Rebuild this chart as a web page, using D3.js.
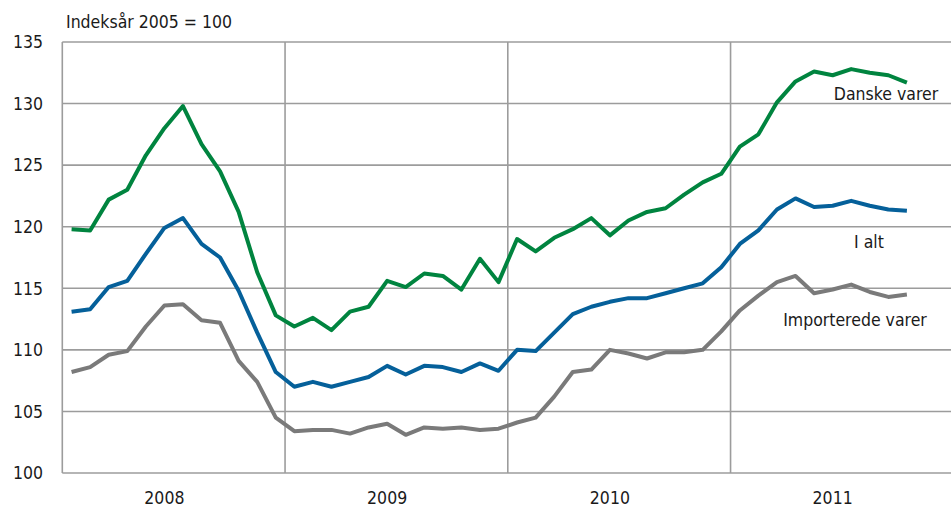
<!DOCTYPE html>
<html>
<head>
<meta charset="utf-8">
<script src="https://cdn.jsdelivr.net/npm/d3@7"></script>
<style>
  html, body { margin: 0; padding: 0; background: #fff; }
  svg text { font-family: "DejaVu Sans Condensed", "DejaVu Sans", sans-serif; font-stretch: condensed; fill: #1a1a1a; }
</style>
</head>
<body>
<svg id="chart" width="951" height="509"></svg>
<script>
'use strict';

// monthly index values, Jan 2008 .. Oct 2011
var years = ['2008', '2009', '2010', '2011'];
var yTicks = [100, 105, 110, 115, 120, 125, 130, 135];

var danskeVarer = [
  119.8, 119.7, 122.2, 123.0, 125.8, 128.0, 129.8, 126.7, 124.5, 121.2, 116.3, 112.8,
  111.9, 112.6, 111.6, 113.1, 113.5, 115.6, 115.1, 116.2, 116.0, 114.9, 117.4, 115.5,
  119.0, 118.0, 119.1, 119.8, 120.7, 119.3, 120.5, 121.2, 121.5, 122.6, 123.6, 124.3,
  126.5, 127.5, 130.1, 131.8, 132.6, 132.3, 132.8, 132.5, 132.3, 131.7
];

var iAlt = [
  113.1, 113.3, 115.1, 115.6, 117.8, 119.9, 120.7, 118.6, 117.5, 114.8, 111.4, 108.2,
  107.0, 107.4, 107.0, 107.4, 107.8, 108.7, 108.0, 108.7, 108.6, 108.2, 108.9, 108.3,
  110.0, 109.9, 111.4, 112.9, 113.5, 113.9, 114.2, 114.2, 114.6, 115.0, 115.4, 116.7,
  118.6, 119.7, 121.4, 122.3, 121.6, 121.7, 122.1, 121.7, 121.4, 121.3
];

var importeredeVarer = [
  108.2, 108.6, 109.6, 109.9, 111.9, 113.6, 113.7, 112.4, 112.2, 109.1, 107.4, 104.5,
  103.4, 103.5, 103.5, 103.2, 103.7, 104.0, 103.1, 103.7, 103.6, 103.7, 103.5, 103.6,
  104.1, 104.5, 106.2, 108.2, 108.4, 110.0, 109.7, 109.3, 109.8, 109.8, 110.0, 111.5,
  113.2, 114.4, 115.5, 116.0, 114.6, 114.9, 115.3, 114.7, 114.3, 114.5
];

var seriesNames = ['Danske varer', 'I alt', 'Importerede varer'];
var seriesColors = ['#00843f', '#05609a', '#7a7a7a'];

var series = [danskeVarer, iAlt, importeredeVarer].map(function (values, i) {
  return { name: seriesNames[i], color: seriesColors[i], values: values };
});

var svg = d3.select('#chart');
var plotLeft = 62.3, plotTop = 42, plotBottom = 473;

// x is measured in months from Jan 2008; points sit in the middle of their month
var x = d3.scaleLinear().domain([0, 48]).range([plotLeft, 953.3]);
var y = d3.scaleLinear().domain([100, 135]).range([plotBottom, plotTop]);

var grid = svg.append('g').attr('class', 'grid');

grid.selectAll('line.h')
  .data(yTicks)
  .enter().append('line')
  .attr('class', 'h')
  .attr('x1', plotLeft).attr('x2', 951)
  .attr('y1', function (d) { return y(d); })
  .attr('y2', function (d) { return y(d); })
  .attr('stroke', '#9c9c9c')
  .attr('stroke-width', 1.6);

grid.selectAll('line.v')
  .data([0, 12, 24, 36])
  .enter().append('line')
  .attr('class', 'v')
  .attr('x1', function (d) { return x(d); })
  .attr('x2', function (d) { return x(d); })
  .attr('y1', plotTop).attr('y2', plotBottom)
  .attr('stroke', '#9c9c9c')
  .attr('stroke-width', 1.6);

// y tick labels
svg.append('g').selectAll('text')
  .data(yTicks)
  .enter().append('text')
  .attr('x', 43)
  .attr('y', function (d) { return y(d); })
  .attr('dy', '0.36em')
  .attr('text-anchor', 'end')
  .style('font-size', '17.5px')
  .text(function (d) { return d; });

// year labels, centred under the middle of each year
svg.append('g').selectAll('text')
  .data(years)
  .enter().append('text')
  .attr('x', function (d, i) { return x(i * 12 + 5.5); })
  .attr('y', 504)
  .attr('text-anchor', 'middle')
  .style('font-size', '17.5px')
  .text(function (d) { return d; });

svg.append('text')
  .attr('x', 66)
  .attr('y', 28)
  .style('font-size', '17.5px')
  .text('Indeksår 2005 = 100');

var line = d3.line()
  .x(function (d, i) { return x(i + 0.5); })
  .y(function (d) { return y(d); });

svg.append('g').selectAll('path')
  .data(series.slice().reverse())
  .enter().append('path')
  .attr('d', function (d) { return line(d.values); })
  .attr('fill', 'none')
  .attr('stroke', function (d) { return d.color; })
  .attr('stroke-width', 4)
  .attr('stroke-linejoin', 'round');

// series labels next to the line ends
var labelPos = [
  { name: 'Danske varer', cx: 886, y: 100 },
  { name: 'I alt', cx: 869, y: 248 },
  { name: 'Importerede varer', cx: 855, y: 326 }
];

svg.append('g').selectAll('text')
  .data(labelPos)
  .enter().append('text')
  .attr('x', function (d) { return d.cx; })
  .attr('y', function (d) { return d.y; })
  .attr('text-anchor', 'middle')
  .style('font-size', '17.5px')
  .text(function (d) { return d.name; });
</script>
</body>
</html>
